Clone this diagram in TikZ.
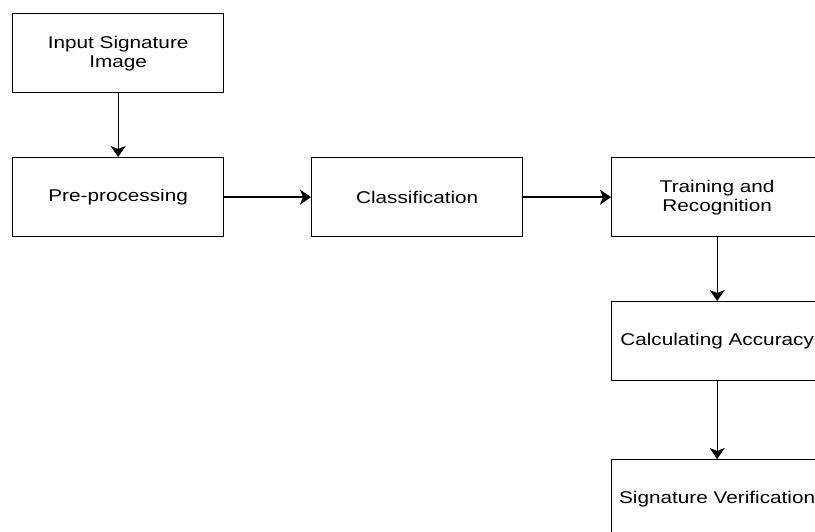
\documentclass[tikz,border=0pt]{standalone}
\usepackage{fontspec}
\newfontfamily\boxfont[FakeStretch=1.22]{Liberation Sans}
\usetikzlibrary{arrows.meta}
\begin{document}
\begin{tikzpicture}[x=1pt,y=-1pt,
  stepbox/.style={draw, line width=1.3pt, minimum width=211pt, minimum height=79pt,
    inner sep=0pt, align=center, font=\boxfont\fontsize{17}{19}\selectfont, anchor=north west},
  flow/.style={line width=1.3pt, -{Stealth[length=11pt,width=15pt,inset=3pt]}}]
\useasboundingbox (0,0) rectangle (815,532);
\fill[white] (0,0) rectangle (815,532);
\clip (0,0) rectangle (815,532);
\node[stepbox] (inp) at (12,13) {Input Signature\\Image};
\node[stepbox] (pre) at (12,157) {Pre-processing};
\node[stepbox] (cls) at (311,157) {Classification};
\node[stepbox] (trn) at (611,157) {Training and\\Recognition};
\node[stepbox] (acc) at (611,301) {Calculating Accuracy};
\node[stepbox] (ver) at (611,459) {Signature Verification};
\draw[flow] (inp) -- (pre);
\draw[flow] (pre) -- (cls);
\draw[flow] (cls) -- (trn);
\draw[flow] (trn) -- (acc);
\draw[flow] (acc) -- (ver);
\end{tikzpicture}
\end{document}
